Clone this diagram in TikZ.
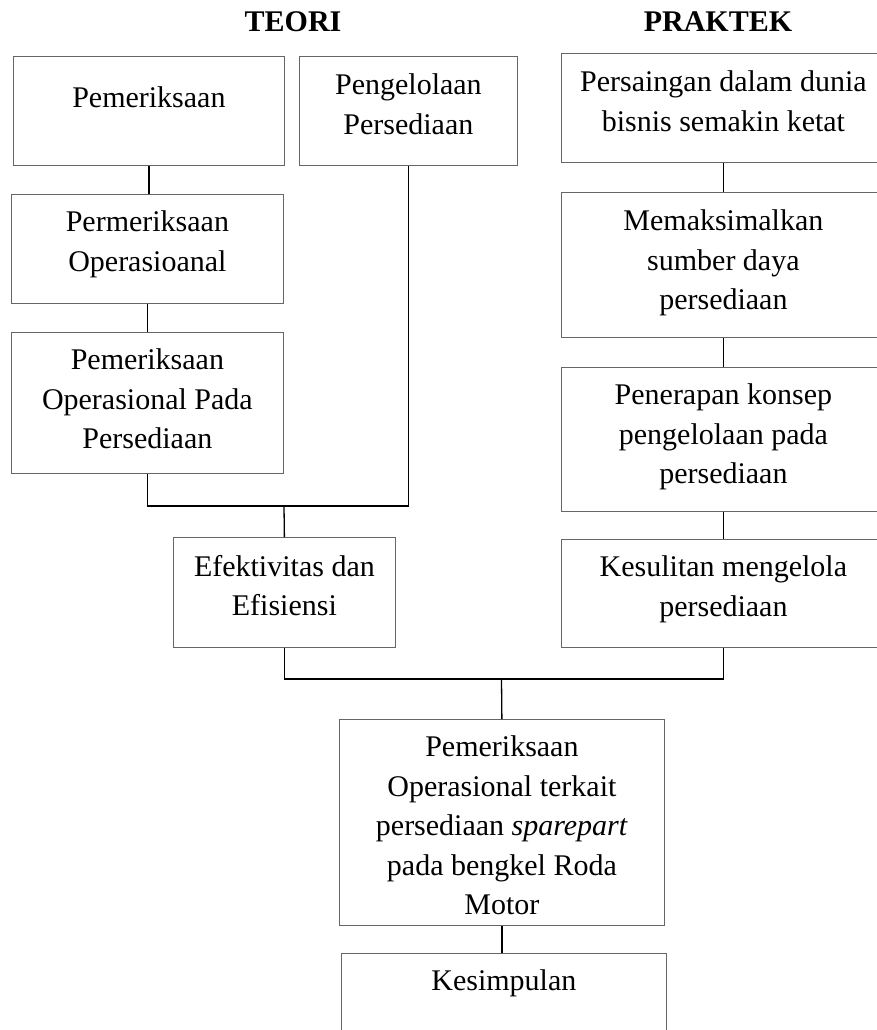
\documentclass[tikz,border=0pt]{standalone}
\usepackage{fontspec}
\setmainfont{Liberation Serif}
\usetikzlibrary{positioning}

\begin{document}
\begin{tikzpicture}[
    x=0.5pt, y=-0.5pt,
    box/.style={draw=black!60, line width=0.4pt, rectangle, inner sep=0pt, anchor=north west},
    txt/.style={inner sep=0pt, align=center, font=\fontsize{15}{19.75}\selectfont},
    head/.style={inner sep=0pt, font=\fontsize{15}{18}\selectfont\bfseries},
    link/.style={line width=0.65pt}
]
    \useasboundingbox (0,0) rectangle (877,1030);

    \node[head] (teori) at (293,22) {TEORI};
    \node[head] (praktek) at (718,22) {PRAKTEK};

    % kolom teori
    \node[box, minimum width=135.5pt, minimum height=54.5pt] (pem) at (13,56) {};
    \node[box, minimum width=109pt, minimum height=54.5pt] (kelola) at (299,56) {};
    \node[box, minimum width=136pt, minimum height=54.5pt] (opr) at (11,194) {};
    \node[box, minimum width=136pt, minimum height=70.5pt] (oprsedia) at (11,332) {};
    \node[box, minimum width=111pt, minimum height=55pt] (efek) at (173,537) {};

    \node[txt, below=15.25pt of pem.north] (pemtx) {Pemeriksaan};
    \node[txt, below=8.75pt of kelola.north] (kelolatx) {Pengelolaan\\Persediaan};
    \node[txt, below=8.25pt of opr.north] (oprtx) {Permeriksaan\\Operasioanal};
    \node[txt, below=8.25pt of oprsedia.north] (oprsediatx) {Pemeriksaan\\Operasional Pada\\Persediaan};
    \node[txt, below=8.75pt of efek.north] (efektx) {Efektivitas dan\\Efisiensi};

    % kolom praktek
    \node[box, minimum width=162pt, minimum height=54.5pt] (saing) at (561,53) {};
    \node[box, minimum width=162pt, minimum height=72.5pt] (maks) at (561,192) {};
    \node[box, minimum width=162pt, minimum height=72pt] (terap) at (561,367) {};
    \node[box, minimum width=162pt, minimum height=54pt] (sulit) at (561,539) {};

    \node[txt, below=8.75pt of saing.north] (saingtx) {Persaingan dalam dunia\\bisnis semakin ketat};
    \node[txt, below=8.75pt of maks.north] (makstx) {Memaksimalkan\\sumber daya\\persediaan};
    \node[txt, below=8.25pt of terap.north] (terapt) {Penerapan konsep\\pengelolaan pada\\persediaan};
    \node[txt, below=8.25pt of sulit.north] (sulittx) {Kesulitan mengelola\\persediaan};

    % fokus dan kesimpulan
    \node[box, minimum width=162.5pt, minimum height=103pt] (fokus) at (339,719) {};
    \node[box, minimum width=162.5pt, minimum height=55pt] (simpul) at (341,953) {};

    \node[txt, below=8.25pt of fokus.north] (fokustx) {Pemeriksaan\\Operasional terkait\\persediaan \textit{sparepart}\\pada bengkel Roda\\Motor};
    \node[txt, below=8.25pt of simpul.north] (simpultx) {Kesimpulan};

    % garis penghubung
    \draw[link] (pem.south) -- (pem.south |- opr.north);
    \draw[link] (opr.south) -- (opr.south |- oprsedia.north);
    \coordinate (gabung1) at (284,506);
    \draw[link] (oprsedia.south) |- (gabung1) -| (kelola.south);
    \draw[link] (gabung1) -- (efek.north);

    \draw[link] (saing.south) -- (maks.north);
    \draw[link] (maks.south) -- (terap.north);
    \draw[link] (terap.south) -- (sulit.north);

    \coordinate (gabung2) at (501.5,679);
    \draw[link] (efek.south) |- (gabung2) -| (sulit.south);
    \draw[link] (gabung2) -- (fokus.north);
    \draw[link] (fokus.south) -- (fokus.south |- simpul.north);
\end{tikzpicture}
\end{document}
